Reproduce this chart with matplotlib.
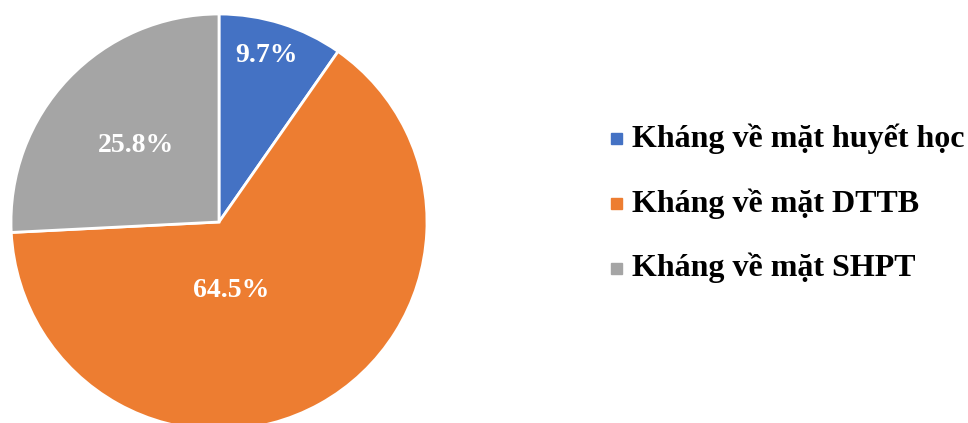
import matplotlib.pyplot as plt
from matplotlib.patches import Rectangle

# số liệu tỷ lệ kháng
labels = ["Kháng về mặt huyết học", "Kháng về mặt DTTB", "Kháng về mặt SHPT"]
values = [9.7, 64.5, 25.8]
colors = ["#4472C4", "#ED7D31", "#A5A5A5"]

W, H = 968, 423
fig = plt.figure(figsize=(W / 100, H / 100), dpi=100)

# vị trí hình tròn (pixel)
cx, cy, r = 219, 222, 208
ax = fig.add_axes([(cx - r) / W, (H - cy - r) / H, 2 * r / W, 2 * r / H])
wedges, texts, pcts = ax.pie(values, colors=colors, startangle=90, counterclock=False,
                             autopct="%.1f%%", radius=1,
                             wedgeprops=dict(edgecolor="white", linewidth=2))
ax.set_xlim(-1, 1)
ax.set_ylim(-1, 1)
ax.set_aspect("equal")
ax.axis("off")

# vị trí nhãn phần trăm
label_pos = [(0.23, 0.80), (0.06, -0.33), (-0.40, 0.37)]
for t, (x, y) in zip(pcts, label_pos):
    t.set_position((x, y))
    t.set_fontfamily("Liberation Serif")
    t.set_fontweight("bold")
    t.set_fontsize(20)
    t.set_color("white")

# chú thích
rows_y = [139, 204, 268]
for lab, col, y in zip(labels, colors, rows_y):
    fig.patches.append(Rectangle((611 / W, (H - y - 5.5) / H), 11 / W, 11 / H,
                                 transform=fig.transFigure, color=col))
    fig.text(632 / W, (H - y) / H, lab, fontfamily="Liberation Serif",
             fontweight="bold", fontsize=23, va="center", ha="left")

fig.savefig("out.png", dpi=100)
